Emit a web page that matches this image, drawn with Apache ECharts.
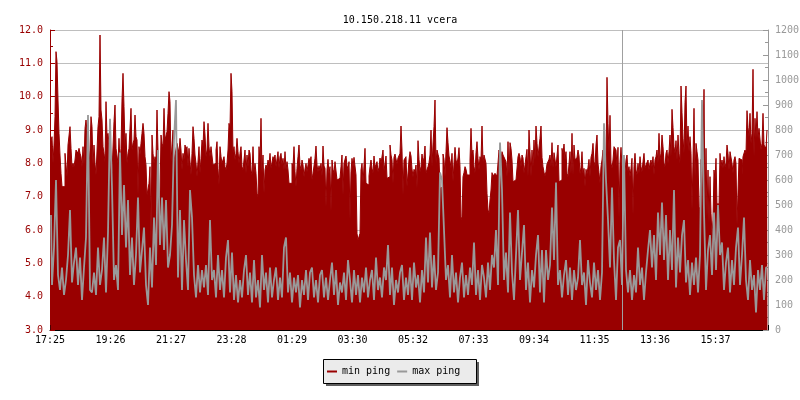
<!DOCTYPE html>
<html>
<head>
<meta charset="utf-8">
<script src="https://cdn.jsdelivr.net/npm/echarts@6/dist/echarts.min.js"></script>
<style>
html,body{margin:0;padding:0;background:#fff;}
#chart{width:800px;height:400px;}
</style>
</head>
<body>
<div id="chart"></div>
<script>
// ---- DATA ----
const chartTitle = '10.150.218.11 vcera';
const seriesNames = ['min ping', 'max ping'];
// x tick labels (one every ~121 minutes, starting 17:25)
const timeLabels = ['17:25','19:26','21:27','23:28','01:29','03:30','05:32','07:33','09:34','11:35','13:36','15:37'];
// min ping (left axis), one value per 2-minute step from 17:25
const minPing = [
8.6,8.6,8.8,8.0,8.55,9.4,11.35,11.05,9.9,8.9,
8.25,7.7,7.3,7.3,7.3,8.3,8.25,7.6,8.55,8.6,
9.1,8.45,7.9,8.0,7.9,8.1,8.4,8.45,8.3,8.45,
8.3,8.2,7.9,8.5,7.95,9.05,9.3,9.25,8.6,7.9,
8.4,9.4,9.1,7.95,8.55,8.0,7.65,7.6,9.1,9.4,
11.85,9.6,9.3,8.5,8.3,8.05,9.85,8.8,8.9,8.6,
8.25,7.8,7.7,7.7,9.25,9.75,8.45,8.45,8.0,8.75,
8.0,8.45,9.9,10.7,9.7,8.5,8.9,8.0,8.3,8.45,
8.4,9.65,8.4,8.6,8.7,9.45,8.8,8.7,7.05,8.5,
8.25,8.6,8.9,9.2,8.9,8.2,7.95,7.05,7.1,7.4,
7.9,5.6,8.85,8.3,8.0,8.2,8.1,9.6,8.4,5.4,
5.4,8.85,8.6,8.5,9.65,8.7,8.75,8.95,9.5,10.15,
9.85,8.05,8.1,9.0,8.05,8.25,8.25,8.6,8.65,8.3,
8.75,8.4,7.8,8.3,8.1,8.55,8.4,8.5,7.9,8.45,
8.45,7.65,8.3,9.1,8.75,8.25,8.0,7.6,7.6,8.5,
7.7,8.15,8.7,8.5,9.25,8.85,8.2,8.4,9.2,8.5,
8.2,8.5,8.45,7.95,7.95,8.0,8.4,8.65,7.85,7.35,
8.5,8.2,8.0,8.0,8.2,7.9,7.8,8.0,8.4,9.2,
9.05,10.7,10.15,8.3,8.5,8.1,8.3,8.75,8.35,8.0,
8.3,8.5,7.9,7.8,8.1,8.4,7.7,8.25,7.9,8.4,
8.3,7.8,7.65,8.5,7.7,8.0,7.7,7.1,7.0,8.5,
8.0,9.35,7.7,8.25,7.1,7.8,7.95,7.85,8.1,7.95,
8.3,7.85,7.85,8.2,8.1,8.25,7.9,7.95,8.35,7.85,
8.2,8.3,7.95,8.15,7.8,8.35,7.8,8.05,7.8,7.4,
7.45,7.4,8.0,7.9,8.5,7.75,7.3,7.85,8.2,8.55,
7.95,7.8,8.1,7.95,7.6,7.83,8.0,7.75,7.75,8.15,
8.0,8.2,7.5,7.7,7.92,8.15,8.52,7.95,7.75,7.93,
7.78,8.0,7.62,8.52,7.92,7.85,6.7,7.8,8.12,7.68,
7.9,6.55,8.1,7.82,7.7,8.05,8.1,7.5,7.5,7.55,
7.5,7.9,8.25,7.05,8.0,8.12,8.22,7.94,7.8,8.05,
6.3,7.75,8.15,7.9,8.18,8.18,7.65,5.9,5.7,5.75,
5.9,7.8,8.0,7.4,7.4,8.45,7.4,7.4,7.35,7.62,
7.9,8.1,7.85,7.7,8.22,7.88,7.85,8.05,7.75,7.88,
8.16,8.0,8.0,8.4,7.77,7.75,8.22,7.55,7.5,7.6,
8.55,8.25,8.1,7.4,8.18,8.28,8.13,7.98,8.16,8.2,
8.3,9.12,8.4,7.05,8.1,8.05,8.2,7.3,7.3,8.1,
8.35,8.22,7.83,7.6,7.82,7.75,7.95,7.25,8.68,8.12,
7.75,7.9,8.28,8.02,8.17,8.52,7.72,7.75,7.9,8.02,
8.25,9.0,7.9,8.58,9.1,9.9,8.0,8.4,8.27,8.15,
7.25,7.3,7.3,8.28,8.12,7.6,8.35,9.07,8.62,8.22,
8.08,7.85,8.3,7.45,8.0,8.48,8.1,7.98,8.16,8.47,
7.9,6.3,6.4,7.6,7.72,7.9,7.82,7.65,7.6,7.65,
8.1,9.05,8.25,8.4,7.9,7.72,8.32,8.65,8.15,7.8,
8.2,8.1,9.12,8.05,8.25,8.3,8.0,7.1,6.6,6.5,
6.9,7.2,7.72,7.62,7.6,7.7,7.65,7.62,7.65,8.4,
8.27,8.15,8.35,8.25,8.3,8.12,8.05,7.6,8.65,7.68,
8.62,8.45,8.1,7.45,7.5,7.5,7.45,7.45,8.2,8.3,
8.18,7.9,8.25,8.16,7.7,7.75,8.2,8.42,7.6,9.0,
8.35,7.6,8.4,7.9,8.7,8.1,9.12,8.6,8.2,8.2,
8.75,9.12,8.18,7.9,7.73,7.62,7.75,7.98,8.0,8.12,
8.25,7.9,8.62,7.86,8.32,8.3,7.9,7.9,8.55,7.45,
7.45,7.5,8.45,8.28,8.58,8.1,8.35,7.7,7.6,7.65,
8.35,7.68,8.9,7.65,8.55,8.1,8.05,8.18,8.4,8.22,
7.68,7.88,8.35,7.68,7.85,7.3,7.82,7.68,7.88,8.12,
7.6,8.18,8.3,8.6,8.05,7.92,8.55,8.85,8.0,7.72,
7.4,7.9,8.1,8.4,7.95,8.25,8.0,10.58,9.2,8.3,
9.44,8.0,7.85,8.1,8.5,8.45,8.4,7.9,8.48,6.35,
8.0,8.48,7.9,7.8,7.95,7.7,8.1,8.25,7.75,7.9,
7.6,7.85,8.15,6.45,7.9,8.3,7.8,7.65,8.0,7.7,
8.2,7.9,7.75,8.05,8.3,7.85,7.95,7.9,8.1,7.8,
8.0,8.1,7.9,8.2,7.65,8.1,8.2,8.4,8.0,8.9,
8.1,8.3,8.85,8.5,8.0,7.9,8.3,8.4,8.0,8.35,
8.85,8.2,9.62,9.08,8.5,8.3,8.68,8.1,8.85,8.3,
8.0,10.32,9.52,8.75,8.3,9.82,10.32,8.5,9.12,8.35,
8.8,8.3,6.6,8.1,9.65,7.6,8.6,8.35,8.1,6.7,
6.6,8.12,6.55,8.0,10.22,6.7,8.45,6.4,7.8,6.2,
7.6,6.5,5.85,6.3,7.8,7.5,8.15,6.7,6.8,6.7,
8.3,7.9,8.1,7.85,8.2,7.9,8.0,8.55,8.3,7.8,
8.35,8.35,8.0,7.7,8.1,8.2,8.0,6.15,6.2,8.15,
8.1,8.1,7.65,8.2,8.2,8.4,8.3,9.58,9.08,8.8,
9.5,8.6,8.9,10.82,8.2,9.35,8.75,9.55,8.75,9.05,
9.08,8.4,8.6,9.5,8.55,8.5,8.45,9.0
];
// max ping (right axis), one value per 4-minute step from 17:25
const maxPing = [
460,180,330,600,220,160,250,140,200,300,
480,190,270,330,180,290,120,250,370,860,
160,150,230,140,330,180,240,370,150,390,
845,570,200,260,160,710,380,580,330,520,
220,370,180,300,530,230,320,410,180,100,
330,170,450,260,720,340,530,320,520,250,
300,420,760,920,210,480,160,440,280,160,
560,450,220,130,260,150,240,170,260,140,
440,200,240,130,300,160,240,130,290,360,
150,310,120,220,110,200,130,240,300,140,
230,110,280,130,200,90,300,160,230,110,
250,130,200,250,120,210,130,330,370,150,
230,110,210,150,220,90,200,140,240,120,
230,250,130,200,110,220,240,130,210,120,
200,270,140,240,100,190,150,230,120,280,
200,110,240,140,220,110,210,150,250,130,
200,240,120,290,160,210,130,250,200,340,
140,250,100,200,150,230,260,120,210,140,
250,120,270,170,220,110,240,150,370,190,
390,170,300,160,230,630,600,400,200,260,
130,300,150,230,110,210,270,130,220,140,
250,180,350,140,240,120,260,210,130,270,
160,300,250,400,180,750,560,200,310,150,
470,230,120,300,480,200,310,420,160,270,
110,240,170,300,380,150,320,110,320,200,
260,490,280,590,180,240,130,220,280,140,
250,120,240,160,210,360,180,230,100,280,
190,130,270,160,240,120,230,827,600,440,
250,570,280,120,330,360,180,700,240,150,
240,120,220,150,330,180,250,120,230,320,
400,250,380,200,470,300,510,280,460,200,
400,240,560,170,370,230,380,440,190,280,
140,270,180,290,150,300,920,470,160,320,
380,220,470,240,500,300,350,160,270,330,
150,280,180,330,410,180,300,450,200,120,
280,160,220,70,240,160,260,120,250
];
// vertical rule marker position (in 2-minute steps from 17:25)
const vruleStep = 572;

// ---- CHART ----
const STEP = 60.5; // axis units between time labels
const mono = 'DejaVu Sans Mono';
const redData = minPing.map((v, i) => [i + 0.5, v]);
const grayData = maxPing.map((v, i) => [i * 2 + 1, v]);

const chart = echarts.init(document.getElementById('chart'), null, {renderer: 'canvas'});
chart.setOption({
  animation: false,
  backgroundColor: '#ffffff',
  title: {
    text: chartTitle,
    left: 'center',
    top: 9,
    textStyle: {fontFamily: mono, fontSize: 10, fontWeight: 'normal', color: '#000', lineHeight: 12}
  },
  graphic: [
    {type: 'rect', z: 0, shape: {x: 326, y: 362, width: 153, height: 24}, style: {fill: '#5e5e5e'}},
    {type: 'rect', z: 1, shape: {x: 323.5, y: 359.5, width: 153, height: 24}, style: {fill: '#ebebeb', stroke: '#000', lineWidth: 1}}
  ],
  legend: {
    z: 10,
    data: seriesNames,
    left: 327,
    top: 365.5,
    padding: 0,
    itemGap: 7,
    itemWidth: 10,
    itemHeight: 2,
    icon: 'rect',
    textStyle: {fontFamily: mono, fontSize: 10, color: '#000', lineHeight: 12}
  },
  grid: {left: 50, top: 30, width: 718, height: 300, containLabel: false, outerBoundsMode: 'none'},
  xAxis: {
    type: 'value',
    min: 0,
    max: 718,
    interval: STEP,
    axisLine: {show: true, onZero: false, lineStyle: {color: '#000', width: 1}},
    axisTick: {show: true, inside: true, length: 5, lineStyle: {color: '#000'}},
    splitLine: {show: false},
    axisLabel: {
      margin: 5,
      fontFamily: mono, fontSize: 10, color: '#000',
      formatter: v => timeLabels[Math.round(v / STEP)] || ''
    }
  },
  yAxis: [
    {
      type: 'value', min: 3, max: 12, interval: 1, position: 'left',
      axisLine: {show: true, lineStyle: {color: '#990000'}},
      axisTick: {show: true, inside: true, length: 5, lineStyle: {color: '#990000'}},
      minorTick: {show: true, splitNumber: 2, length: 3, lineStyle: {color: '#990000'}},
      splitLine: {show: true, lineStyle: {color: '#bebebe', width: 1}},
      axisLabel: {margin: 7, fontFamily: mono, fontSize: 10, color: '#990000', formatter: v => v.toFixed(1)}
    },
    {
      type: 'value', min: 0, max: 1200, interval: 100, position: 'right',
      axisLine: {show: true, lineStyle: {color: '#999999'}},
      axisTick: {show: true, inside: true, length: 5, lineStyle: {color: '#999999'}},
      minorTick: {show: true, splitNumber: 2, length: 3, lineStyle: {color: '#999999'}},
      splitLine: {show: false},
      axisLabel: {margin: 7, fontFamily: mono, fontSize: 10, color: '#999999', formatter: v => String(v)}
    }
  ],
  series: [
    {
      name: seriesNames[0],
      type: 'line',
      yAxisIndex: 0,
      data: redData,
      step: 'middle',
      showSymbol: false,
      symbol: 'none',
      color: '#990000',
      lineStyle: {color: '#990000', width: 1},
      areaStyle: {color: '#990000', opacity: 1, origin: 'start'},
      silent: true,
      z: 2
    },
    {
      name: seriesNames[1],
      type: 'line',
      yAxisIndex: 1,
      data: grayData,
      step: 'middle',
      showSymbol: false,
      symbol: 'none',
      color: '#999999',
      lineStyle: {color: '#999999', width: 1.8},
      silent: true,
      z: 3,
      markLine: {
        silent: true,
        symbol: ['none', 'none'],
        label: {show: false},
        lineStyle: {color: '#a0a0a0', type: 'solid', width: 1},
        data: [{xAxis: vruleStep}]
      }
    }
  ]
});
</script>
</body>
</html>
